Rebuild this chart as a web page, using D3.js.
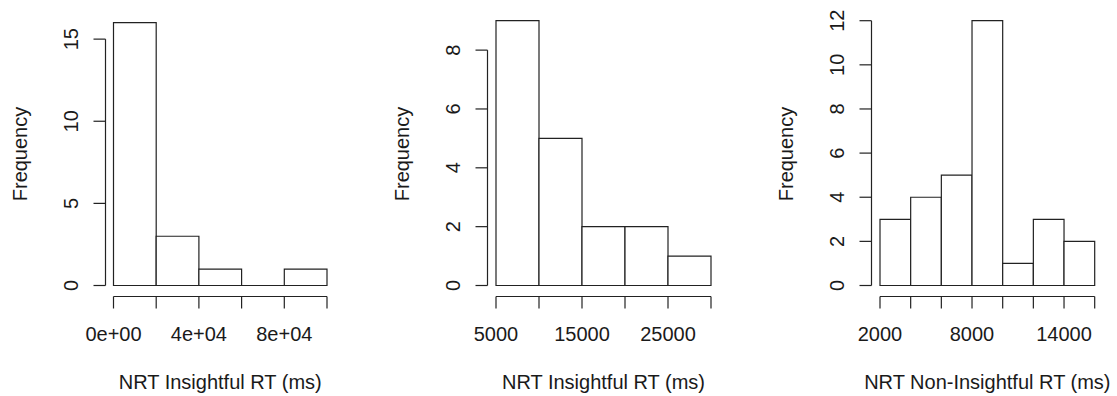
<!DOCTYPE html>
<html>
<head>
<meta charset="utf-8">
<script src="https://cdn.jsdelivr.net/npm/d3@7"></script>
<style>
  html, body { margin: 0; padding: 0; background: #fff; }
  svg { display: block; }
  text { font-family: "Liberation Sans", Arial, Helvetica, sans-serif; font-size: 20px; fill: #1a1a1a; }
</style>
</head>
<body>
<svg id="chart" width="1117" height="396"></svg>
<script>
// ---- Data ----
// Panel 1: NRT Insightful RT (ms)
const breaks1 = [0, 20000, 40000, 60000, 80000, 100000];
const counts1 = [16, 3, 1, 0, 1];
const xTickLabels1 = [[0, "0e+00"], [40000, "4e+04"], [80000, "8e+04"]];
const yTicks1 = [0, 5, 10, 15];
const xTitle1 = "NRT Insightful RT (ms)";

// Panel 2: NRT Insightful RT (ms)
const breaks2 = [5000, 10000, 15000, 20000, 25000, 30000];
const counts2 = [9, 5, 2, 2, 1];
const xTickLabels2 = [[5000, "5000"], [15000, "15000"], [25000, "25000"]];
const yTicks2 = [0, 2, 4, 6, 8];
const xTitle2 = "NRT Insightful RT (ms)";

// Panel 3: NRT Non-Insightful RT (ms)
const breaks3 = [2000, 4000, 6000, 8000, 10000, 12000, 14000, 16000];
const counts3 = [3, 4, 5, 12, 1, 3, 2];
const xTickLabels3 = [[2000, "2000"], [8000, "8000"], [14000, "14000"]];
const yTicks3 = [0, 2, 4, 6, 8, 10, 12];
const xTitle3 = "NRT Non-Insightful RT (ms)";

const yTitle = "Frequency";

// ---- Layout (pixel positions, not data) ----
const layouts = [
  { axisX: 105.5, barLeft: 113.5, barRight: 327, yTopPx: 22.7 },
  { axisX: 487.5, barLeft: 496, barRight: 711, yTopPx: 20.7 },
  { axisX: 871.5, barLeft: 880, barRight: 1094.7, yTopPx: 20.7 }
];
const zeroPx = 285.5;
const xAxisY = 296.5;
const tickLen = 12;
const stroke = "#222";
const sw = 1.2;

const panels = [
  { breaks: breaks1, counts: counts1, xLabels: xTickLabels1, yTicks: yTicks1, xTitle: xTitle1 },
  { breaks: breaks2, counts: counts2, xLabels: xTickLabels2, yTicks: yTicks2, xTitle: xTitle2 },
  { breaks: breaks3, counts: counts3, xLabels: xTickLabels3, yTicks: yTicks3, xTitle: xTitle3 }
];

const svg = d3.select("#chart");

panels.forEach((p, i) => {
  const L = layouts[i];
  const g = svg.append("g");
  const maxCount = d3.max(p.counts);
  const x = d3.scaleLinear()
    .domain([p.breaks[0], p.breaks[p.breaks.length - 1]])
    .range([L.barLeft, L.barRight]);
  const y = d3.scaleLinear().domain([0, maxCount]).range([zeroPx, L.yTopPx]);

  // bars (drawn as closed paths so zero-height bins still show a line)
  const bins = p.counts.map((c, k) => ({ x0: p.breaks[k], x1: p.breaks[k + 1], c }));
  g.selectAll("path.bar").data(bins).enter().append("path")
    .attr("class", "bar")
    .attr("d", d => {
      const a = x(d.x0), b = x(d.x1), t = y(d.c), z = y(0);
      return `M${a},${z}L${a},${t}L${b},${t}L${b},${z}Z`;
    })
    .attr("fill", "#fff")
    .attr("stroke", stroke)
    .attr("stroke-width", sw);

  // y axis
  const ya = g.append("g").attr("transform", `translate(${L.axisX},0)`);
  ya.append("line")
    .attr("x1", 0).attr("x2", 0)
    .attr("y1", y(p.yTicks[0])).attr("y2", y(p.yTicks[p.yTicks.length - 1]))
    .attr("stroke", stroke).attr("stroke-width", sw);
  ya.selectAll("line.tick").data(p.yTicks).enter().append("line")
    .attr("class", "tick")
    .attr("x1", -tickLen).attr("x2", 0)
    .attr("y1", d => y(d)).attr("y2", d => y(d))
    .attr("stroke", stroke).attr("stroke-width", sw);
  ya.selectAll("text.tl").data(p.yTicks).enter().append("text")
    .attr("class", "tl")
    .attr("text-anchor", "middle")
    .attr("transform", d => `translate(-28,${y(d)}) rotate(-90)`)
    .text(d => d);

  // y title
  g.append("text")
    .attr("text-anchor", "middle")
    .attr("transform", `translate(${L.axisX - 79},154) rotate(-90)`)
    .text(yTitle);

  // x axis
  const xa = g.append("g").attr("transform", `translate(0,${xAxisY})`);
  xa.append("line")
    .attr("x1", x(p.breaks[0])).attr("x2", x(p.breaks[p.breaks.length - 1]))
    .attr("y1", 0).attr("y2", 0)
    .attr("stroke", stroke).attr("stroke-width", sw);
  xa.selectAll("line.tick").data(p.breaks).enter().append("line")
    .attr("class", "tick")
    .attr("x1", d => x(d)).attr("x2", d => x(d))
    .attr("y1", 0).attr("y2", tickLen)
    .attr("stroke", stroke).attr("stroke-width", sw);
  xa.selectAll("text.tl").data(p.xLabels).enter().append("text")
    .attr("class", "tl")
    .attr("text-anchor", "middle")
    .attr("x", d => x(d[0]))
    .attr("y", 44)
    .text(d => d[1]);

  // x title
  const ext = (L.barRight - L.barLeft) * 0.04;
  g.append("text")
    .attr("text-anchor", "middle")
    .attr("x", (L.barLeft - ext + L.barRight + ext) / 2)
    .attr("y", 389)
    .text(p.xTitle);
});
</script>
</body>
</html>
